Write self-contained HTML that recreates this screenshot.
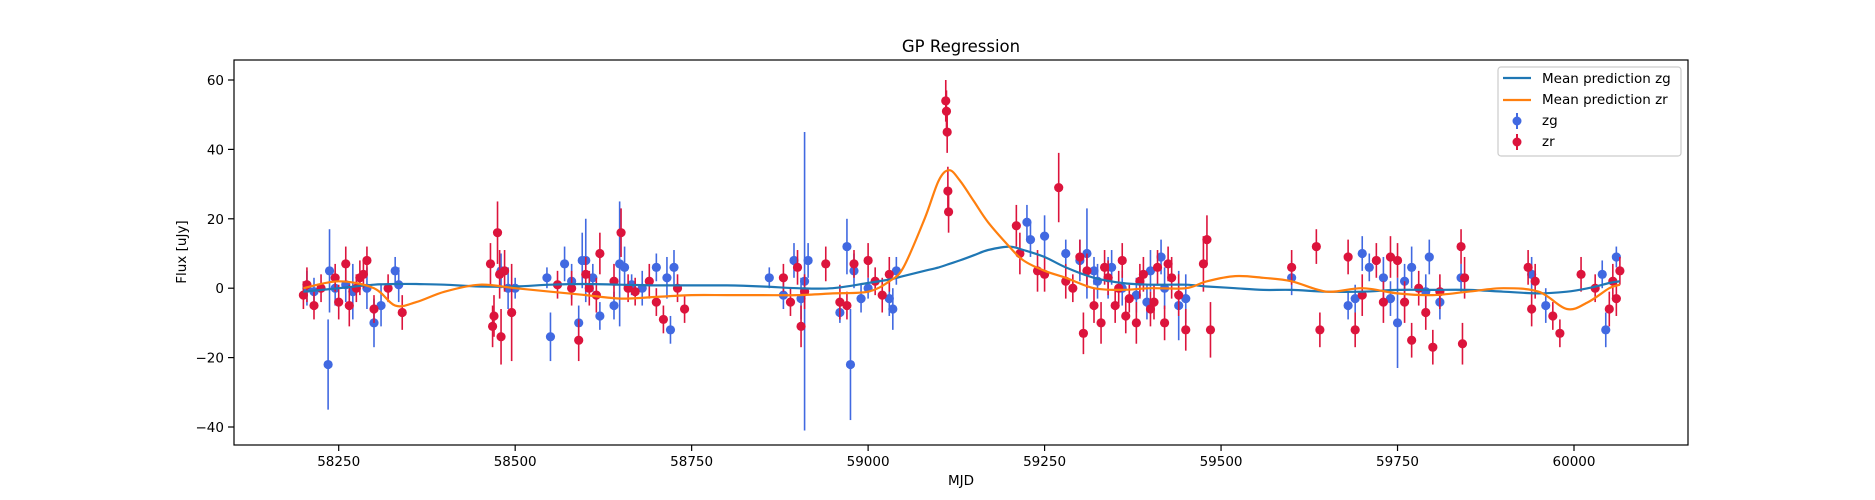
<!DOCTYPE html>
<html><head><meta charset="utf-8"><style>
body{margin:0;background:#fff;}
svg{display:block;font-family:"DejaVu Sans","Liberation Sans",sans-serif;}
</style></head><body>
<svg id="chart" width="1875" height="500" xmlns="http://www.w3.org/2000/svg">
<rect width="1875" height="500" fill="#fff"/>
<text x="961" y="52" font-size="16.5" text-anchor="middle">GP Regression</text>
<g id="plot"></g>
<g id="axes"></g>
<rect x="234" y="60" width="1454" height="385" fill="none" stroke="#000" stroke-width="1.2"/>
<text x="961" y="485" font-size="13.5" text-anchor="middle">MJD</text>
<text x="186" y="252" font-size="13.5" text-anchor="middle" transform="rotate(-90 186 252)">Flux [uJy]</text>
<g>
<rect x="1498" y="67" width="183" height="89" rx="3" fill="#fff" fill-opacity="0.85" stroke="#ccc" stroke-width="1.2"/>
<g><line x1="1503" y1="78" x2="1531" y2="78" stroke="#1f77b4" stroke-width="2.2"/><text x="1542" y="83" font-size="13.5">Mean prediction zg</text></g>
<g><line x1="1503" y1="100" x2="1531" y2="100" stroke="#ff7f0e" stroke-width="2.2"/><text x="1542" y="104" font-size="13.5">Mean prediction zr</text></g>
<g><line x1="1517" y1="113" x2="1517" y2="129" stroke="#4169e1" stroke-width="2"/><circle cx="1517" cy="121" r="4.5" fill="#4169e1"/><text x="1542" y="125" font-size="13.5">zg</text></g>
<g><line x1="1517" y1="134" x2="1517" y2="150" stroke="#dc143c" stroke-width="2"/><circle cx="1517" cy="142" r="4.5" fill="#dc143c"/><text x="1542" y="146" font-size="13.5">zr</text></g>
</g>
</svg>
<script>
const xTicks=[58250,58500,58750,59000,59250,59500,59750,60000];
const yTicks=[-40,-20,0,20,40,60];
const zgMjd=[58205,58215,58235,58237,58245,58260,58270,58290,58300,58310,58330,58335,58480,58490,58500,58545,58550,58570,58580,58590,58595,58600,58610,58620,58640,58648,58655,58665,58680,58700,58715,58720,58725,58860,58880,58895,58905,58910,58915,58960,58970,58975,58980,58990,59000,59030,59035,59040,59225,59230,59250,59280,59300,59310,59320,59340,59360,59380,59400,59420,59440,59450,59325,59345,59395,59415,59600,59680,59690,59700,59710,59730,59740,59750,59760,59770,59790,59795,59810,59840,59940,59960,60040,60045,60060];
const zgFlux=[0,-1,-22,5,0,1,-1,0,-10,-5,5,1,5,0,0,3,-14,7,2,-10,8,8,3,-8,-5,7,6,1,0,6,3,-12,6,3,-2,8,-3,2,8,-7,12,-22,5,-3,0,-3,-6,5,19,14,15,10,8,10,5,3,0,-2,5,0,-5,-3,2,6,-4,9,3,-5,-3,10,6,3,-3,-10,2,6,-1,9,-4,3,4,-5,4,-12,9];
const zgErr=[5,4,13,12,5,5,8,6,7,6,4,5,5,6,3,3,7,5,5,5,8,12,4,4,4,18,6,3,5,4,6,4,5,3,4,5,6,43,5,3,8,16,5,4,3,5,6,4,5,5,6,4,6,13,4,6,5,5,6,6,10,7,5,5,5,5,5,4,4,5,4,6,5,13,5,6,5,5,5,4,5,5,4,5,3];
const zrMjd=[58200,58205,58215,58225,58245,58250,58260,58265,58275,58280,58285,58290,58300,58320,58340,58465,58468,58470,58475,58478,58480,58485,58495,58560,58580,58590,58600,58605,58615,58620,58640,58650,58660,58670,58690,58700,58710,58730,58740,58880,58890,58900,58905,58910,58940,58960,58970,58980,59000,59010,59020,59030,59110,59111,59112,59113,59114,59210,59215,59240,59250,59270,59280,59290,59300,59305,59310,59320,59330,59340,59350,59360,59370,59380,59390,59400,59410,59420,59430,59440,59450,59335,59355,59365,59385,59405,59425,59475,59480,59485,59600,59635,59640,59680,59690,59700,59720,59730,59740,59750,59760,59770,59780,59790,59800,59810,59840,59842,59845,59935,59940,59945,59970,59980,60010,60030,60050,60055,60060,60065];
const zrFlux=[-2,1,-5,0,3,-4,7,-5,0,3,4,8,-6,0,-7,7,-11,-8,16,4,-14,5,-7,1,0,-15,4,0,-2,10,2,16,0,-1,2,-4,-9,0,-6,3,-4,6,-11,-1,7,-4,-5,7,8,2,-2,4,54,51,45,28,22,18,10,5,4,29,2,0,9,-13,5,-5,-10,3,-5,8,-3,-10,4,-6,6,-10,3,-2,-12,6,0,-8,2,-4,7,7,14,-12,6,12,-12,9,-12,-2,8,-4,9,8,-4,-15,0,-7,-17,-1,12,-16,3,6,-6,2,-8,-13,4,0,-6,2,-3,5];
const zrErr=[4,5,4,4,4,5,5,6,4,5,4,4,4,4,5,6,6,6,9,7,8,6,14,4,5,6,5,5,5,6,5,7,4,4,5,4,4,4,4,4,4,5,6,5,5,5,4,4,5,4,5,5,6,6,6,7,6,6,6,6,5,10,5,4,5,6,5,5,6,5,5,5,4,6,5,5,5,5,6,6,6,5,5,5,5,5,5,8,7,8,5,5,5,5,5,6,5,6,6,5,6,5,5,5,5,5,5,6,6,5,5,5,4,4,5,4,5,5,5,4];
const meanMjd=[58200,58250,58300,58330,58360,58400,58450,58500,58550,58600,58650,58700,58750,58800,58850,58900,58950,59000,59030,59050,59080,59100,59115,59130,59150,59170,59200,59220,59250,59280,59320,59360,59400,59450,59480,59520,59560,59600,59650,59700,59750,59800,59850,59900,59950,59990,60020,60050,60065];
const meanZg=[-1,0,1,1.2,1.2,1,0.5,0.5,1,1.2,1,0.8,0.8,0.8,0.5,0,0,1.5,2.5,3.5,5,6,7,8,9.5,11,12,11,9,6,3,1.5,1,1,0.5,0,-0.5,-0.5,-1,-1,-0.5,-0.5,-0.5,-1,-1.5,-1,0,1.5,2];
const meanZr=[0,2,0,-5,-4,-1,1,0,-1,-2,-3,-2.5,-2,-2,-2,-2,-1.5,-1,2,6,20,31,34,31,25,19,12,8,5,3,0,-0.5,0,0,2,3.5,3,2,-1,0,-1.5,-2,-1,0,-1,-6,-4,0,1];
const X=v=>338.7+(v-58250)*(1574-338.7)/1750;
const Y=v=>288.2-v*3.47;
const NS="http://www.w3.org/2000/svg";
const plot=document.getElementById('plot'),axes=document.getElementById('axes');
function mk(tag,attrs,parent){const e=document.createElementNS(NS,tag);for(const k in attrs)e.setAttribute(k,attrs[k]);parent.appendChild(e);return e;}
xTicks.forEach(t=>{const g=mk('g',{},axes);


mk('line',{x1:X(t),x2:X(t),y1:445,y2:451,stroke:'#000','stroke-width':1.2},g);
const tx=mk('text',{x:X(t),y:466,'font-size':13.5,'text-anchor':'middle'},g);tx.textContent=t;});
yTicks.forEach(t=>{const g=mk('g',{},axes);


mk('line',{x1:228,x2:234,y1:Y(t),y2:Y(t),stroke:'#000','stroke-width':1.2},g);
const tx=mk('text',{x:224,y:Y(t)+5,'font-size':13.5,'text-anchor':'end'},g);tx.textContent=String(t).replace('-','\u2212');});
function series(m,f,e,col,name){const g=mk('g',{},plot);


m.forEach((v,i)=>{mk('line',{x1:X(v),x2:X(v),y1:Y(f[i]-e[i]),y2:Y(f[i]+e[i]),stroke:col,'stroke-width':1.6},g);
const c=mk('circle',{cx:X(v),cy:Y(f[i]),r:4.6,fill:col},g);

});}
function line(ys,col,name){const P=meanMjd.map((v,i)=>[X(v),Y(ys[i])]);
let d='M'+P[0][0].toFixed(1)+','+P[0][1].toFixed(1);
for(let i=0;i<P.length-1;i++){const p0=P[Math.max(0,i-1)],p1=P[i],p2=P[i+1],p3=P[Math.min(P.length-1,i+2)];
const c1=[p1[0]+(p2[0]-p0[0])/6,p1[1]+(p2[1]-p0[1])/6],c2=[p2[0]-(p3[0]-p1[0])/6,p2[1]-(p3[1]-p1[1])/6];
d+='C'+c1.map(n=>n.toFixed(1)).join(',')+' '+c2.map(n=>n.toFixed(1)).join(',')+' '+p2.map(n=>n.toFixed(1)).join(',');}
const p=mk('path',{d:d,fill:'none',stroke:col,'stroke-width':2.2,'stroke-linejoin':'round'},plot);

}
series(zgMjd,zgFlux,zgErr,'#4169e1','zg');
series(zrMjd,zrFlux,zrErr,'#dc143c','zr');
line(meanZg,'#1f77b4','mean-prediction-zg');
line(meanZr,'#ff7f0e','mean-prediction-zr');
</script>
</body></html>
